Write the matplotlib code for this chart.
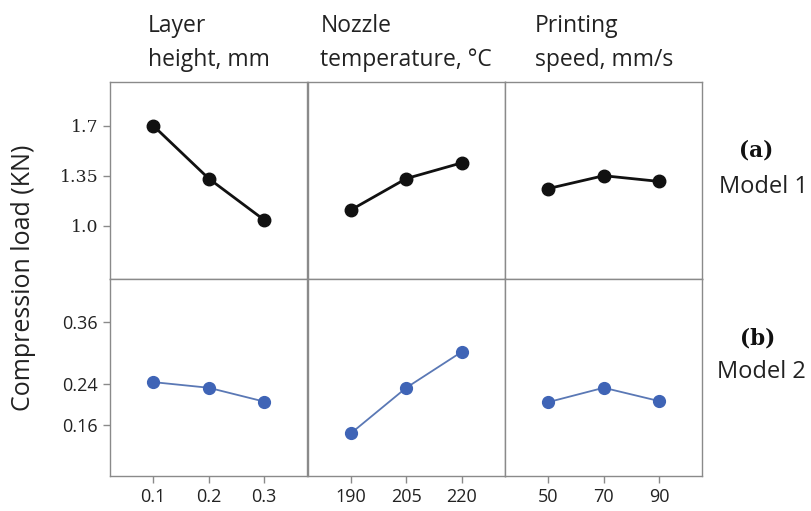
import numpy as np
import matplotlib.pyplot as plt

# factor levels
layer_height = ["0.1", "0.2", "0.3"]
nozzle_temp = ["190", "205", "220"]
print_speed = ["50", "70", "90"]
factor_titles = ["Layer\nheight, mm", "Nozzle\ntemperature, \u00b0C", "Printing\nspeed, mm/s"]

# mean compression load (KN) per level
model1_layer = [1.70, 1.33, 1.04]
model1_nozzle = [1.11, 1.33, 1.44]
model1_speed = [1.26, 1.35, 1.31]

model2_layer = [0.243, 0.232, 0.205]
model2_nozzle = [0.143, 0.232, 0.302]
model2_speed = [0.204, 0.232, 0.206]

model1_ticks = [1.0, 1.35, 1.7]
model1_ticklabels = ["1.0", "1.35", "1.7"]
model2_ticks = [0.16, 0.24, 0.36]
model2_ticklabels = ["0.16", "0.24", "0.36"]

plt.rcParams["font.family"] = ["Open Sans", "DejaVu Sans"]

W, H = 812, 511
fig = plt.figure(figsize=(W / 100, H / 100), dpi=100)

left, top, colw, rowh = 110, 82, 197.5, 197
levels = [layer_height, nozzle_temp, print_speed]
rows = [
    dict(vals=[model1_layer, model1_nozzle, model1_speed], color="#111111", lc="#111111",
         lw=2.0, ms=9, ylim=(0.627, 2.006), ticks=model1_ticks, labels=model1_ticklabels,
         tfont="DejaVu Serif", tsize=12.5),
    dict(vals=[model2_layer, model2_nozzle, model2_speed], color="#3f64b6", lc="#5a78b5",
         lw=1.3, ms=8.5, ylim=(0.060, 0.444), ticks=model2_ticks, labels=model2_ticklabels,
         tfont="Open Sans", tsize=13),
]

frame = "#8a8a8a"
for r, row in enumerate(rows):
    for c in range(3):
        x0 = left + c * colw
        y0 = top + r * rowh
        ax = fig.add_axes([x0 / W, 1 - (y0 + rowh) / H, colw / W, rowh / H])
        x = np.arange(3)
        ax.plot(x, row["vals"][c], "-", color=row["lc"], lw=row["lw"], zorder=2)
        ax.plot(x, row["vals"][c], "o", color=row["color"], ms=row["ms"], zorder=3)
        ax.set_xlim(-0.78, 2.78)
        ax.set_ylim(*row["ylim"])
        for s in ax.spines.values():
            s.set_color(frame)
            s.set_linewidth(1.0)
        ax.tick_params(direction="out", length=5, width=1, color=frame,
                       labelsize=13, labelcolor="#222222")
        if c == 0:
            ax.set_yticks(row["ticks"])
            ax.set_yticklabels(row["labels"], family=row["tfont"], fontsize=row["tsize"])
        else:
            ax.set_yticks([])
        if r == 1:
            ax.set_xticks(x)
            ax.set_xticklabels(levels[c])
        else:
            ax.set_xticks([])
        if r == 0:
            ax.text(0.5, 1.0 + 39 / rowh, factor_titles[c], transform=ax.transAxes,
                    ha="center", va="center", multialignment="left",
                    fontsize=16.5, color="#222222", linespacing=1.55)

fig.text(24 / W, 1 - 278 / H, "Compression load (KN)", rotation=90,
         ha="center", va="center", fontsize=18, color="#222222")

fig.text(756 / W, 1 - 150 / H, "(a)", family="DejaVu Serif", weight="bold",
         ha="center", va="center", fontsize=15.5, color="#111111")
fig.text(719 / W, 1 - 187 / H, "Model 1", ha="left", va="center",
         fontsize=17, color="#222222")
fig.text(758 / W, 1 - 338 / H, "(b)", family="DejaVu Serif", weight="bold",
         ha="center", va="center", fontsize=15.5, color="#111111")
fig.text(717 / W, 1 - 372 / H, "Model 2", ha="left", va="center",
         fontsize=17, color="#222222")

fig.savefig("out.png", dpi=100)
